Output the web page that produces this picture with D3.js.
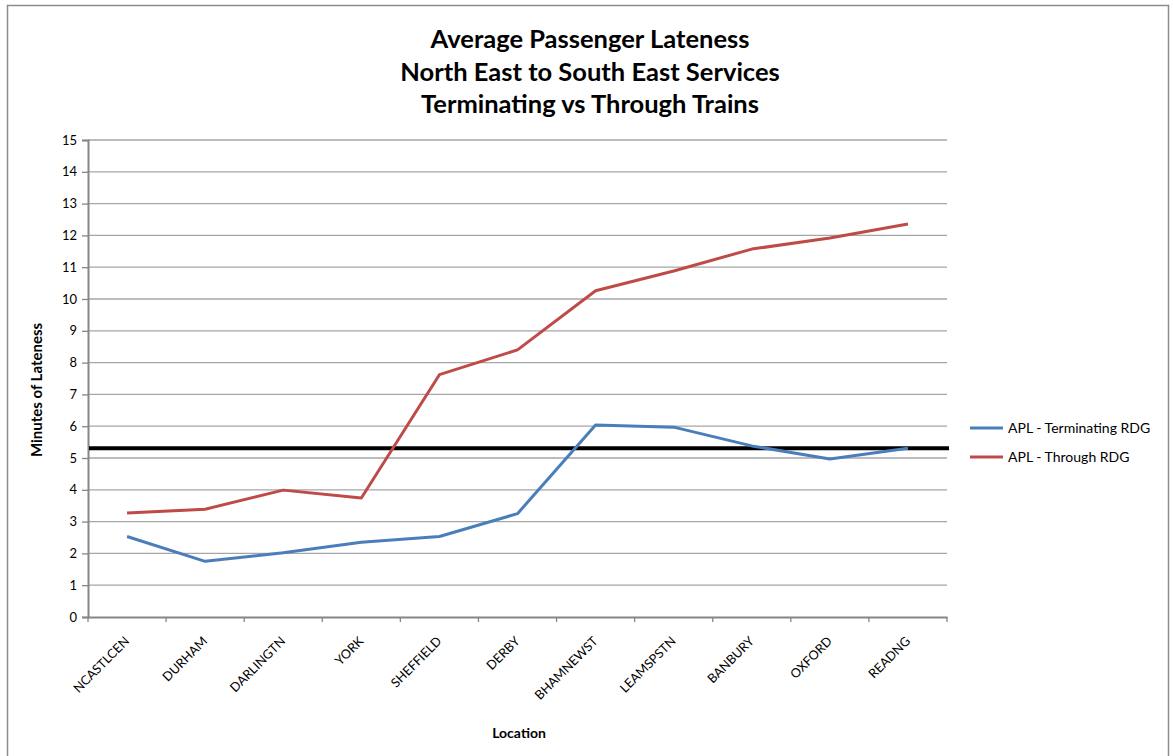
<!DOCTYPE html>
<html>
<head>
<meta charset="utf-8">
<script src="https://cdn.jsdelivr.net/npm/d3@7"></script>
<style>
  body { margin: 0; background: #fff; }
  svg text { font-family: Lato, "Open Sans", sans-serif; fill: #000; }
</style>
</head>
<body>
<div id="graph"></div>
<script>
// data
var locations = ["NCASTLCEN", "DURHAM", "DARLINGTN", "YORK", "SHEFFIELD", "DERBY",
                 "BHAMNEWST", "LEAMSPSTN", "BANBURY", "OXFORD", "READNG"];
var terminating = [2.53, 1.75, 2.02, 2.35, 2.53, 3.25, 6.04, 5.97, 5.38, 4.97, 5.31];
var through = [3.27, 3.39, 3.99, 3.74, 7.62, 8.40, 10.26, 10.88, 11.57, 11.92, 12.36];
var averageLine = 5.31;
var yTicks = d3.range(0, 16);
var titleLines = ["Average Passenger Lateness", "North East to South East Services",
                  "Terminating vs Through Trains"];
var seriesNames = ["APL - Terminating RDG", "APL - Through RDG"];

var w = 1173, h = 756;
var vis = d3.select("#graph").append("svg").attr("width", w).attr("height", h);

// chart border
vis.append("rect")
   .attr("x", 7.5).attr("y", 5.5).attr("width", 1161).attr("height", 760)
   .attr("fill", "none").attr("stroke", "#8c8c8c").attr("stroke-width", 1.5);

// plot area edges (don't call these top/left: window.top is read-only)
var plotL = 88, plotR = 947, plotT = 140, plotB = 617;

var x = d3.scaleBand().domain(locations).range([plotL, plotR]);
var y = d3.scaleLinear().domain([0, 15]).range([plotB, plotT]);

// gridlines
vis.append("g")
   .selectAll("line")
   .data(yTicks.filter(d => d > 0))
   .enter()
   .append("line")
   .attr("x1", plotL).attr("x2", plotR)
   .attr("y1", d => y(d)).attr("y2", d => y(d))
   .attr("stroke", "#a6a6a6").attr("stroke-width", 1.3);

// y axis
var yAxis = vis.append("g")
   .attr("transform", "translate(" + plotL + ",0)")
   .call(d3.axisLeft(y).tickValues(yTicks).tickSize(6).tickPadding(5));
yAxis.select(".domain").attr("stroke", "#868686").attr("stroke-width", 2);
yAxis.selectAll(".tick line").attr("stroke", "#868686").attr("stroke-width", 1.3);
yAxis.selectAll(".tick text").style("font-size", "13px").attr("fill", "#000");

// x axis
var xAxis = vis.append("g")
   .attr("transform", "translate(0," + plotB + ")")
   .call(d3.axisBottom(x).tickSize(0).tickFormat(""));
xAxis.select(".domain").attr("stroke", "#868686").attr("stroke-width", 2);

// category boundary ticks
vis.append("g")
   .selectAll("line")
   .data(locations.concat(["end"]))
   .enter()
   .append("line")
   .attr("x1", (d, i) => plotL + i * x.step())
   .attr("x2", (d, i) => plotL + i * x.step())
   .attr("y1", plotB).attr("y2", plotB + 5)
   .attr("stroke", "#868686").attr("stroke-width", 1.3);

// rotated category labels
vis.append("g")
   .selectAll("text")
   .data(locations)
   .enter()
   .append("text")
   .attr("transform", d => "translate(" + (x(d) + x.bandwidth() / 2 + 3) + "," + (plotB + 25) + ") rotate(-45)")
   .attr("text-anchor", "end")
   .style("font-size", "12.7px")
   .text(d => d);

// average reference line
vis.append("line")
   .attr("x1", plotL + 1).attr("x2", plotR + 2)
   .attr("y1", y(averageLine)).attr("y2", y(averageLine))
   .attr("stroke", "#000").attr("stroke-width", 4);

// series lines
var colors = ["#4a7ebb", "#be4b48"];
var line = d3.line()
   .x((d, i) => x(locations[i]) + x.bandwidth() / 2)
   .y(d => y(d));

vis.selectAll("path.series")
   .data([terminating, through])
   .enter()
   .append("path")
   .attr("class", "series")
   .attr("d", line)
   .attr("fill", "none")
   .attr("stroke", (d, i) => colors[i])
   .attr("stroke-width", 3)
   .attr("stroke-linejoin", "round");

// title
vis.append("text")
   .attr("x", 590).attr("y", 48)
   .attr("text-anchor", "middle")
   .style("font-size", "25.5px").style("font-weight", "bold")
   .selectAll("tspan")
   .data(titleLines)
   .enter()
   .append("tspan")
   .attr("x", 590)
   .attr("dy", (d, i) => i === 0 ? 0 : 32.5)
   .text(d => d);

// axis titles
vis.append("text")
   .attr("transform", "translate(42,390) rotate(-90)")
   .attr("text-anchor", "middle")
   .style("font-size", "15px").style("font-weight", "bold")
   .text("Minutes of Lateness");

vis.append("text")
   .attr("x", 519).attr("y", 738)
   .attr("text-anchor", "middle")
   .style("font-size", "14px").style("font-weight", "bold")
   .text("Location");

// legend
var legend = vis.append("g").selectAll("g")
   .data(seriesNames)
   .enter()
   .append("g")
   .attr("transform", (d, i) => "translate(970," + (428 + i * 29) + ")");
legend.append("line")
   .attr("x1", 0).attr("x2", 33)
   .attr("stroke", (d, i) => colors[i]).attr("stroke-width", 3);
legend.append("text")
   .attr("x", 38).attr("y", 5)
   .style("font-size", "14px")
   .text(d => d);
</script>
</body>
</html>
